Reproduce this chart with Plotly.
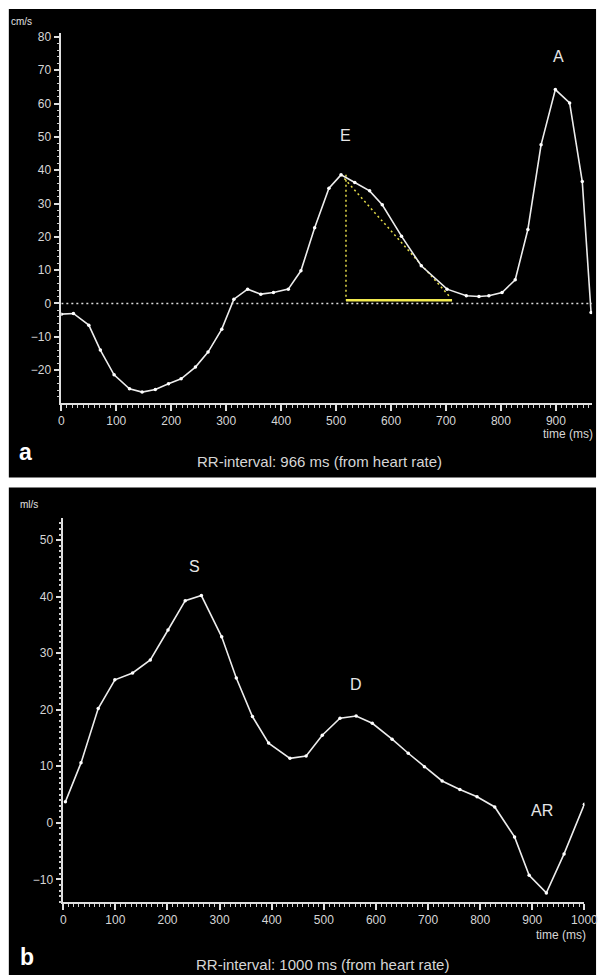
import plotly.graph_objects as go

# ---------------- data ----------------
# Panel a: transmitral velocity (cm/s) over one RR interval
a_time = [0, 22, 50, 71, 96, 124, 147, 171, 195, 218, 244, 267, 292, 314, 339, 363, 386, 413,
          436, 461, 487, 509, 534, 561, 584, 619, 655, 702, 737, 760, 778, 802, 826, 849, 873,
          899, 925, 948, 964]
a_vel = [-3.2, -3.0, -6.5, -14.0, -21.4, -25.6, -26.6, -25.8, -24.1, -22.6, -19.1, -14.6, -7.7,
         1.3, 4.3, 2.8, 3.3, 4.3, 9.8, 22.7, 34.6, 38.6, 36.3, 33.8, 29.6, 20.2, 11.3, 4.3, 2.3,
         2.1, 2.3, 3.3, 7.1, 22.2, 47.6, 64.2, 60.2, 36.6, -2.7]
a_rr = 966
a_labels = ["E", "A"]
a_label_t = [517, 905]
a_label_v = [50.4, 74.0]

# E-wave deceleration construction (yellow)
e_peak_t = [509]
e_peak_v = [38.6]
dt_start_t = [518]
dt_end_t = [711]
dt_level = [1.0]
decel_end_t = [707]
decel_end_v = [2.0]

# Panel b: pulmonary venous flow (ml/s)
b_time = [4, 34, 67, 99, 133, 167, 201, 234, 265, 304, 332, 363, 394, 435, 466, 497, 531, 562,
          593, 631, 662, 693, 727, 761, 794, 828, 866, 894, 927, 961, 1000]
b_flow = [3.7, 10.6, 20.2, 25.3, 26.5, 28.8, 34.1, 39.3, 40.2, 32.9, 25.6, 18.8, 14.1, 11.4, 11.8,
          15.5, 18.5, 18.9, 17.6, 14.8, 12.3, 9.9, 7.4, 5.9, 4.6, 2.8, -2.5, -9.3, -12.4, -5.5, 3.3]
b_rr = 1000
b_labels = ["S", "D", "AR"]
b_label_t = [251, 562, 918]
b_label_v = [45.4, 24.4, 2.2]

a_yticks = [-20, -10, 0, 10, 20, 30, 40, 50, 60, 70, 80]
a_xticks = [0, 100, 200, 300, 400, 500, 600, 700, 800, 900]
b_yticks = [-10, 0, 10, 20, 30, 40, 50]
b_xticks = [0, 100, 200, 300, 400, 500, 600, 700, 800, 900, 1000]

# ---------------- figure ----------------
W, H = 612, 975
FONT = "Liberation Sans, Arial, sans-serif"
LINE = "#ececec"
TICK = "#d6d6d6"
YEL = "#e4dc4a"

fig = go.Figure()

curve = dict(mode="lines+markers", line=dict(color=LINE, width=1.6),
             marker=dict(size=3.5, color="#ffffff"), showlegend=False, hoverinfo="skip")

# zero reference line panel a
fig.add_trace(go.Scatter(x=[0, a_rr], y=[0, 0], mode="lines", xaxis="x", yaxis="y",
                         line=dict(color="#dddddd", width=1.5, dash="2px,3px"),
                         showlegend=False, hoverinfo="skip"))
# yellow construction
fig.add_trace(go.Scatter(x=[dt_start_t[0], dt_start_t[0]], y=[e_peak_v[0], dt_level[0]],
                         mode="lines", xaxis="x", yaxis="y",
                         line=dict(color=YEL, width=1.5, dash="2px,3px"),
                         showlegend=False, hoverinfo="skip"))
fig.add_trace(go.Scatter(x=[e_peak_t[0], decel_end_t[0]], y=[e_peak_v[0], decel_end_v[0]],
                         mode="lines", xaxis="x", yaxis="y",
                         line=dict(color=YEL, width=1.5, dash="2px,3px"),
                         showlegend=False, hoverinfo="skip"))
fig.add_trace(go.Scatter(x=[dt_start_t[0], dt_end_t[0]], y=[dt_level[0], dt_level[0]],
                         mode="lines", xaxis="x", yaxis="y",
                         line=dict(color="#f2ea50", width=2.5),
                         showlegend=False, hoverinfo="skip"))

fig.add_trace(go.Scatter(x=a_time, y=a_vel, xaxis="x", yaxis="y", **curve))
fig.add_trace(go.Scatter(x=b_time, y=b_flow, xaxis="x2", yaxis="y2", **curve))


def px_x(p):
    return p / W


def px_y(p):
    return 1 - p / H


axis_common = dict(showgrid=False, zeroline=False, showline=True, linecolor="#e0e0e0",
                   linewidth=1.5, ticks="outside", ticklen=6, tickwidth=1.5, tickcolor="#e0e0e0",
                   tickfont=dict(family=FONT, size=12, color=TICK))

fig.update_layout(
    width=W, height=H,
    margin=dict(l=0, r=0, t=0, b=0),
    paper_bgcolor="white", plot_bgcolor="black",
    showlegend=False,
    xaxis=dict(domain=[px_x(60), px_x(606)], range=[0, a_rr], anchor="y",
               tickvals=a_xticks, ticktext=[str(v) for v in a_xticks],
               minor=dict(dtick=10, tick0=0, ticklen=3, tickwidth=1, tickcolor="#cfcfcf",
                          ticks="outside"),
               **axis_common),
    yaxis=dict(domain=[px_y(401), px_y(30)], range=[-29.8, 81.2], anchor="x",
               tickvals=a_yticks, ticktext=[f"{v:d}".replace("-", "\u2212") for v in a_yticks],
               minor=dict(dtick=2, tick0=0, ticklen=3, tickwidth=1, tickcolor="#cfcfcf",
                          ticks="outside"),
               **axis_common),
    xaxis2=dict(domain=[px_x(62), px_x(598)], range=[0, b_rr], anchor="y2",
                tickvals=b_xticks, ticktext=[str(v) for v in b_xticks],
                minor=dict(dtick=10, tick0=0, ticklen=3, tickwidth=1, tickcolor="#cfcfcf",
                           ticks="outside"),
                **axis_common),
    yaxis2=dict(domain=[px_y(901.7), px_y(516.7)], range=[-14, 53.9], anchor="x2",
                tickvals=b_yticks, ticktext=[f"{v:d}".replace("-", "\u2212") for v in b_yticks],
                minor=dict(dtick=1, tick0=0, ticklen=3, tickwidth=1.5, tickcolor="#cfcfcf",
                           ticks="outside"),
                **axis_common),
)

# black panels
for y0, y1 in [(476, 6), (975, 486)]:
    fig.add_shape(type="rect", xref="paper", yref="paper",
                  x0=px_x(6), x1=px_x(610), y0=px_y(y0), y1=px_y(y1),
                  fillcolor="black", line=dict(width=0), layer="below")

ann = []
for txt, t, v in zip(a_labels, a_label_t, a_label_v):
    ann.append(dict(text=txt, x=t, y=v, xref="x", yref="y", showarrow=False,
                    font=dict(family=FONT, size=16, color="#e6e6e6")))
for txt, t, v in zip(b_labels, b_label_t, b_label_v):
    ann.append(dict(text=txt, x=t, y=v, xref="x2", yref="y2", showarrow=False,
                    font=dict(family=FONT, size=16, color="#e6e6e6")))

small = dict(family=FONT, size=12, color=TICK)
ann += [
    dict(text="cm/s", x=px_x(6), y=px_y(19), xref="paper", yref="paper", xanchor="left",
         yanchor="middle", showarrow=False, font=dict(family=FONT, size=10, color="#e0e0e0")),
    dict(text="ml/s", x=px_x(15), y=px_y(503), xref="paper", yref="paper", xanchor="left",
         yanchor="middle", showarrow=False, font=dict(family=FONT, size=10, color="#e0e0e0")),
    dict(text="time (ms)", x=px_x(609), y=px_y(432), xref="paper", yref="paper",
         xanchor="right", yanchor="middle", showarrow=False, font=small),
    dict(text="time (ms)", x=px_x(602), y=px_y(935), xref="paper", yref="paper",
         xanchor="right", yanchor="middle", showarrow=False, font=small),
    dict(text=f"RR-interval: {a_rr} ms (from heart rate)", x=px_x(326), y=px_y(460),
         xref="paper", yref="paper", xanchor="center", yanchor="middle", showarrow=False,
         font=dict(family=FONT, size=15, color=TICK)),
    dict(text=f"RR-interval: {b_rr} ms (from heart rate)", x=px_x(329), y=px_y(964),
         xref="paper", yref="paper", xanchor="center", yanchor="middle", showarrow=False,
         font=dict(family=FONT, size=15, color=TICK)),
    dict(text="<b>a</b>", x=px_x(14), y=px_y(450), xref="paper", yref="paper",
         xanchor="left", yanchor="middle", showarrow=False,
         font=dict(family=FONT, size=23, color="white")),
    dict(text="<b>b</b>", x=px_x(15), y=px_y(957), xref="paper", yref="paper",
         xanchor="left", yanchor="middle", showarrow=False,
         font=dict(family=FONT, size=23, color="white")),
]
fig.update_layout(annotations=ann)

fig.write_html("out.html",
               config={"displayModeBar": False},
               post_script="document.body.style.margin='0px';"
                           "document.body.style.overflow='hidden';")
